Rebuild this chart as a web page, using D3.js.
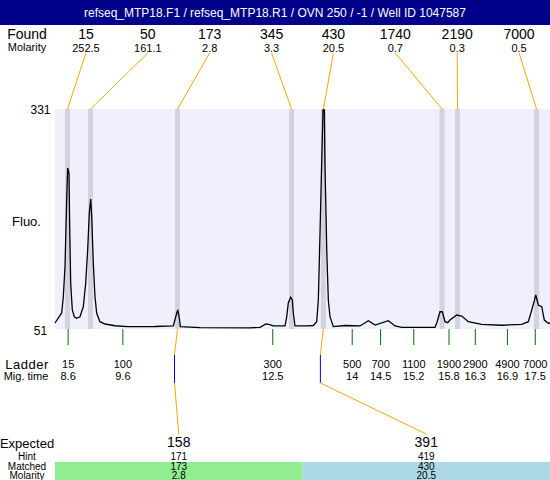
<!DOCTYPE html>
<html><head><meta charset="utf-8">
<script src="https://cdn.jsdelivr.net/npm/d3@7"></script>
<style>body{margin:0;background:#fff}svg{display:block}text{font-family:"Liberation Sans",Arial,sans-serif}</style>
</head><body>
<script>
const title = "refseq_MTP18.F1 / refseq_MTP18.R1 / OVN 250 / -1 / Well ID 1047587";
const foundSizes = ["15","50","173","345","430","1740","2190","7000"];
const foundMolarity = ["252.5","161.1","2.8","3.3","20.5","0.7","0.3","0.5"];
const foundTimes = [8.588, 9.025, 10.679, 12.846, 13.452, 15.707, 16.002, 17.504];
const ladderSizes = ["15","100","300","500","700","1100","1900","2900","4900","7000"];
const ladderTimes = [8.60, 9.64, 12.49, 14.00, 14.54, 15.17, 15.84, 16.34, 16.95, 17.48];
const migTimeLabels = ["8.6","9.6","12.5","14","14.5","15.2","15.8","16.3","16.9","17.5"];
const yTickLabels = [331, 51];
const traceTime = [8.350,8.477,8.508,8.540,8.572,8.591,8.616,8.629,8.648,8.679,8.717,8.762,8.825,8.888,8.934,8.971,9.002,9.029,9.048,9.078,9.110,9.143,9.205,9.300,9.490,9.738,10.251,10.599,10.645,10.683,10.708,10.733,11.108,12.058,12.248,12.361,12.418,12.494,12.723,12.755,12.785,12.831,12.861,12.880,12.913,13.135,13.261,13.325,13.356,13.388,13.421,13.445,13.470,13.483,13.516,13.546,13.578,13.641,13.863,14.148,14.307,14.434,14.687,14.814,14.941,15.575,15.608,15.669,15.713,15.764,15.815,15.859,15.987,16.082,16.207,16.462,16.842,17.222,17.348,17.413,17.462,17.489,17.538,17.603,17.652,17.728,17.760];
const traceFluo = [57.4,70.2,91.0,129.4,214.7,255.6,249.2,180.5,108.5,74.0,65.4,63.4,65.4,78.2,108.5,150.7,198.1,216.0,193.4,134.1,91.0,69.8,59.1,56.1,53.9,52.7,52.9,53.6,65.4,74.0,66.3,52.7,51.6,51.2,51.9,56.1,55.5,53.6,53.6,65.4,83.0,90.3,86.8,70.2,53.6,53.6,54.2,59.1,86.8,172.5,265.8,329.8,329.8,257.3,150.7,86.8,65.4,52.7,54.2,53.6,60.3,54.8,60.3,53.6,51.9,51.9,57.4,71.8,71.8,59.1,57.8,61.2,67.6,66.3,59.1,55.7,54.5,55.7,59.1,74.0,85.9,93.2,80.4,78.2,61.2,57.0,57.4];
const expectedSizes = ["158","391"];
const hintSizes = ["171","419"];
const matchedSizes = ["173","430"];
const matchedMolarity = ["2.8","20.5"];
const matchedFoundIndex = [2,4];
const matchColors = ["#90EE90","#ADD8E6"];

const W = 550, H = 480;
const plotL = 55, plotR = 550, plotT = 109, plotB = 329;
const svg = d3.select("body").append("svg").attr("width", W).attr("height", H);

// header
svg.append("rect").attr("x",0).attr("y",0).attr("width",W).attr("height",25).attr("fill","#000088");
svg.append("text").attr("x",W/2).attr("y",13).attr("text-anchor","middle").attr("dominant-baseline","central")
  .attr("fill","#fff").attr("font-size",12).text(title);

const x = d3.scaleLinear().domain([8.35, 17.76]).range([plotL, plotR]);
const y = d3.scaleLinear().domain([51, 331]).range([328, plotT]);
const fx = d3.scalePoint().domain(d3.range(foundSizes.length)).range([plotL, plotR]).padding(0.5);

function txt(xp, yp, s, size, anchor){
  return svg.append("text").attr("x",xp).attr("y",yp).attr("text-anchor",anchor||"middle")
    .attr("dominant-baseline","central").attr("font-size",size).attr("fill","#000").text(s);
}

// found rows
txt(27, 34, "Found", 14);
txt(27, 47, "Molarity", 11);
foundSizes.forEach((s,i)=>{ txt(fx(i), 34, s, 14); txt(fx(i), 48, foundMolarity[i], 11); });

// plot bg
svg.append("rect").attr("x",plotL).attr("y",plotT).attr("width",plotR-plotL).attr("height",plotB-plotT).attr("fill","#F0F0FC");
// bands
svg.selectAll("rect.band").data(foundTimes).join("rect").attr("class","band")
  .attr("x",d=>x(d)-2.5).attr("y",plotT).attr("width",5).attr("height",plotB-plotT).attr("fill","#D3D3E0");
// connectors top
svg.selectAll("line.conn").data(foundTimes).join("line").attr("class","conn")
  .attr("x1",(d,i)=>fx(i)).attr("y1",53).attr("x2",d=>x(d)).attr("y2",plotT)
  .attr("stroke","#FFA500").attr("stroke-width",1);

// trace
const pts = traceTime.map((t,i)=>[t, traceFluo[i]]);
svg.append("path").datum(pts).attr("fill","none").attr("stroke","#000").attr("stroke-width",1.3)
  .attr("d", d3.line().x(d=>x(d[0])).y(d=>Math.max(plotT, y(d[1]))));

// y labels
txt(40.5, 110, String(yTickLabels[0]), 12);
txt(40.5, 331, String(yTickLabels[1]), 12);
txt(26.5, 221, "Fluo.", 13);

// ladder
svg.selectAll("line.lad").data(ladderTimes).join("line").attr("class","lad")
  .attr("x1",d=>x(d)).attr("x2",d=>x(d)).attr("y1",plotB).attr("y2",345)
  .attr("stroke","#007000").attr("stroke-width",1);
txt(27, 364, "Ladder", 13).attr("letter-spacing",0.5);
txt(26, 376, "Mig. time", 11);
ladderTimes.forEach((t,i)=>{ txt(x(t), 364, ladderSizes[i], 11); txt(x(t), 376, migTimeLabels[i], 11); });

// expected / matched
const mb = d3.scaleBand().domain(d3.range(expectedSizes.length)).range([plotL, plotR]);
expectedSizes.forEach((s,i)=>{
  svg.append("rect").attr("x",mb(i)).attr("y",462).attr("width",mb.bandwidth()).attr("height",H-462).attr("fill",matchColors[i]);
});
txt(27, 443, "Expected", 13);
txt(27, 456.5, "Hint", 10);
txt(27, 466, "Matched", 10);
txt(27, 475.5, "Molarity", 10);
expectedSizes.forEach((s,i)=>{
  const cx = mb(i) + mb.bandwidth()/2;
  txt(cx, 442, s, 14);
  txt(cx, 456.5, hintSizes[i], 10);
  txt(cx, 466, matchedSizes[i], 10);
  txt(cx, 475.5, matchedMolarity[i], 10);
  const px = x(foundTimes[matchedFoundIndex[i]]);
  const mx = px - 3;
  svg.append("line").attr("x1",px).attr("y1",plotB).attr("x2",mx).attr("y2",355).attr("stroke","#FFA500");
  svg.append("line").attr("x1",mx).attr("y1",355).attr("x2",mx).attr("y2",383).attr("stroke","#0000FF");
  svg.append("line").attr("x1",mx).attr("y1",383).attr("x2",cx).attr("y2",434).attr("stroke","#FFA500");
});
</script>
</body></html>
